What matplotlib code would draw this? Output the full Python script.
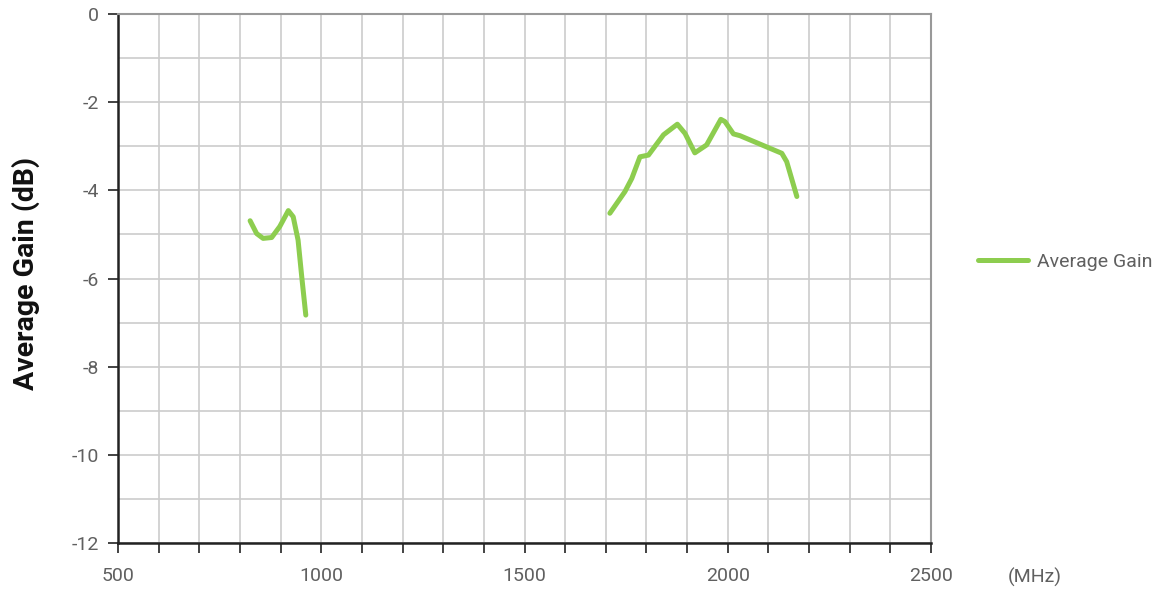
import matplotlib
matplotlib.use("Agg")
import matplotlib.pyplot as plt
import numpy as np

# Data
freq_low = [825, 841, 857, 878, 898, 919, 931, 943, 952, 962]
gain_low = [-4.69, -4.98, -5.09, -5.07, -4.82, -4.46, -4.60, -5.13, -5.96, -6.83]

freq_high = [1710, 1747, 1764, 1784, 1805, 1842, 1876, 1895, 1919, 1948,
             1983, 1993, 2014, 2030, 2133, 2145, 2170]
gain_high = [-4.52, -4.03, -3.73, -3.24, -3.20, -2.74, -2.50, -2.71, -3.15, -2.97,
             -2.39, -2.44, -2.72, -2.76, -3.16, -3.35, -4.14]

x_major = [500, 1000, 1500, 2000, 2500]
y_major = [0, -2, -4, -6, -8, -10, -12]

series_name = "Average Gain"
line_color = "#8dcd4f"
tick_color = "#606060"

plt.rcParams['font.family'] = ['Roboto', 'DejaVu Sans']

fig = plt.figure(figsize=(11.65, 5.9), dpi=100)
ax = fig.add_axes([118/1165, 47/590, (931-118)/1165, (543-14)/590])

ax.plot(freq_low, gain_low, color=line_color, lw=3.6, solid_capstyle='round',
        solid_joinstyle='round', label=series_name, zorder=3)
ax.plot(freq_high, gain_high, color=line_color, lw=3.6, solid_capstyle='round',
        solid_joinstyle='round', zorder=3)

ax.set_xlim(500, 2500)
ax.set_ylim(-12, 0)

ax.set_xticks(np.arange(500, 2501, 100), minor=False)
ax.set_xticklabels([str(v) if v in x_major else "" for v in range(500, 2501, 100)])
ax.set_yticks(y_major)
ax.set_yticklabels([str(v) for v in y_major])
ax.set_yticks(np.arange(-12, 1, 1), minor=True)

ax.grid(True, which='major', axis='x', color='#cccccc', lw=1.2)
ax.grid(True, which='both', axis='y', color='#cccccc', lw=1.2)
ax.set_axisbelow(True)

ax.tick_params(axis='both', which='major', direction='out', length=7, width=1.2,
               color='#222222', labelcolor=tick_color, labelsize=14)
ax.tick_params(axis='y', which='minor', length=0)
ax.tick_params(axis='x', pad=10)
ax.tick_params(axis='y', pad=6.5)

for s in ['left', 'bottom']:
    ax.spines[s].set_color('#222222')
    ax.spines[s].set_linewidth(1.8)
for s in ['top', 'right']:
    ax.spines[s].set_color('#999999')
    ax.spines[s].set_linewidth(1.5)

ax.set_ylabel("Average Gain (dB)", fontsize=20.5, fontweight='bold', color='#111111')
ax.yaxis.set_label_coords(40/1165, 1 - 274/590, transform=fig.transFigure)

fig.text(1008/1165, 1 - 577/590, "(MHz)", fontsize=14,
         color=tick_color, ha='left', va='center')

leg = ax.legend(loc='center left', frameon=False, fontsize=14,
                handlelength=2.6, handletextpad=0.45)
leg.set_bbox_to_anchor((960/1165, 1 - 262/590), transform=fig.transFigure)
for t in leg.get_texts():
    t.set_color(tick_color)

fig.savefig("out.png", dpi=100)
